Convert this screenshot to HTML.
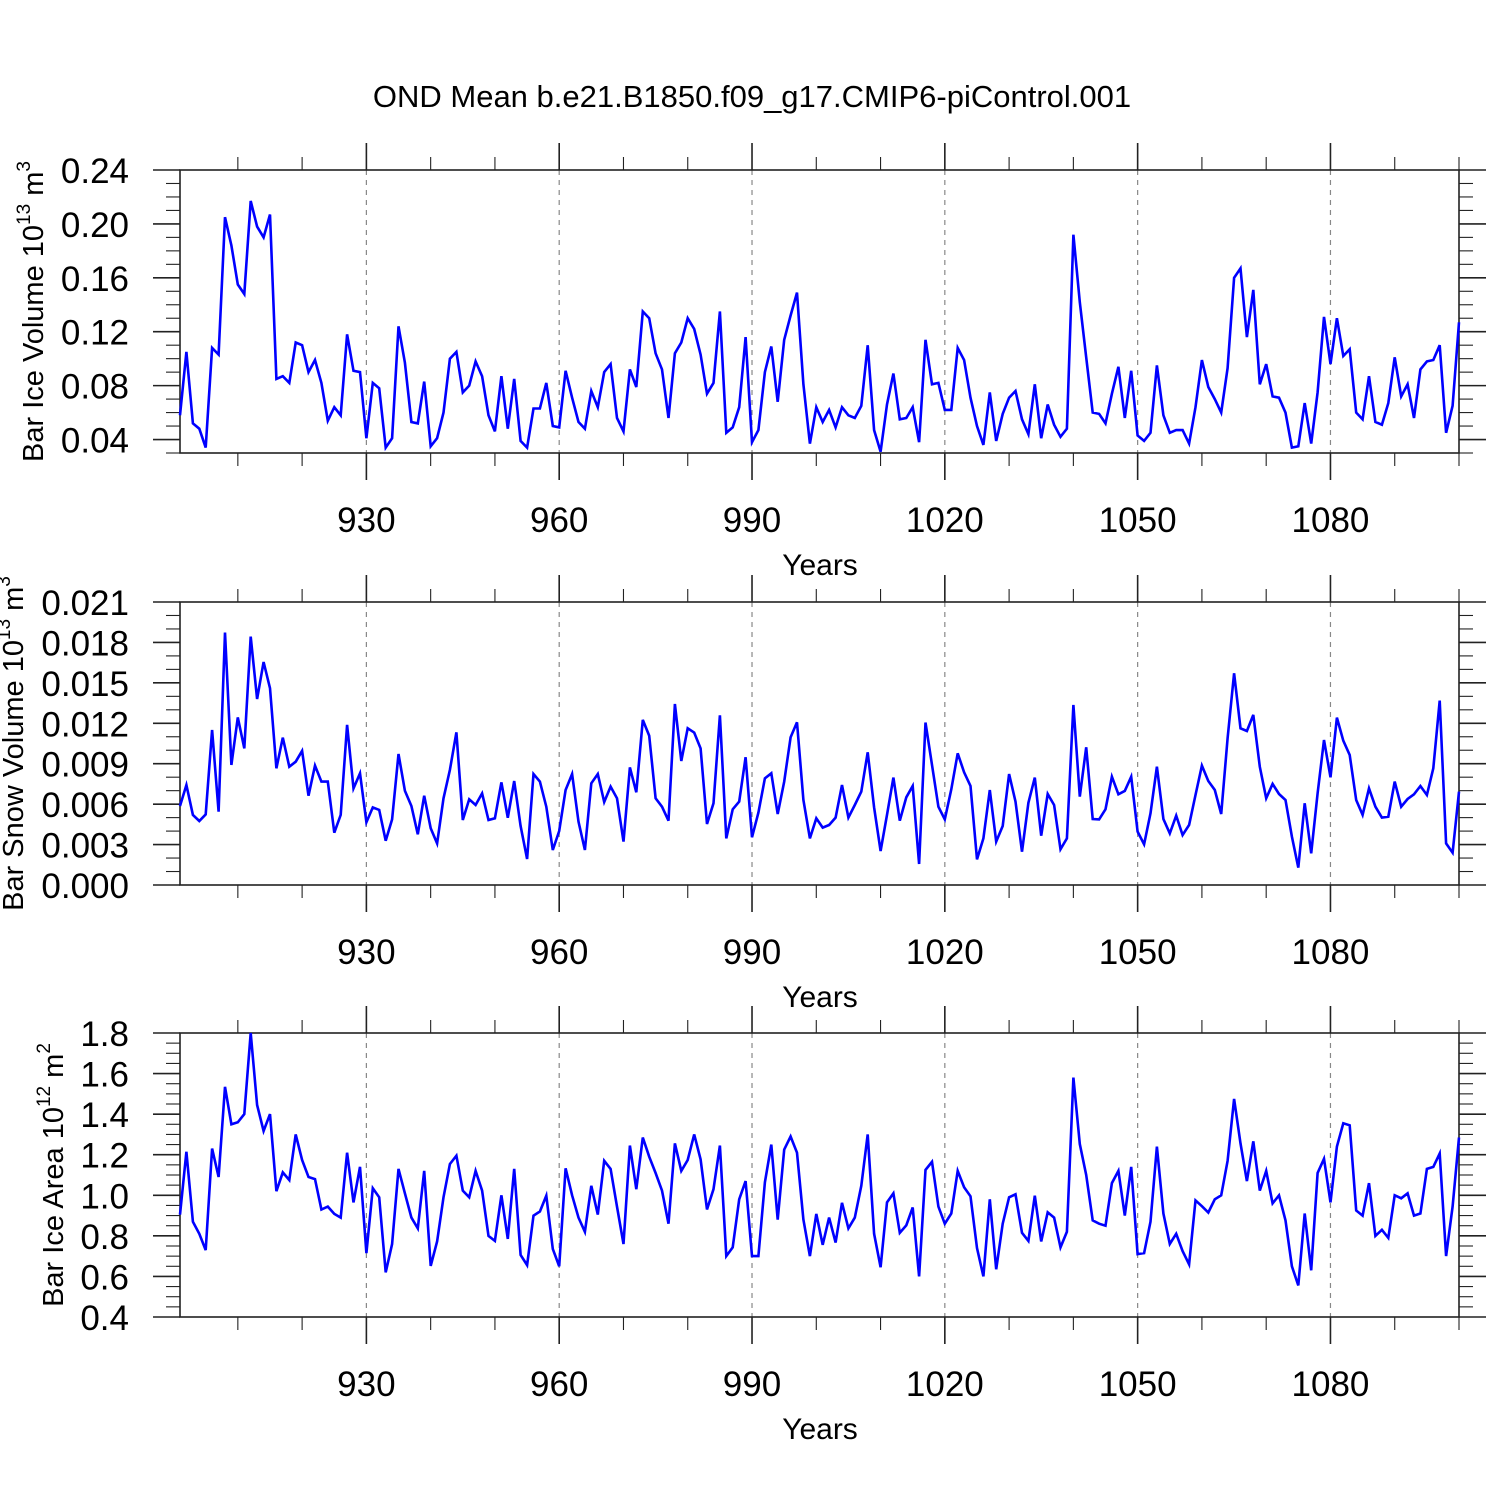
<!DOCTYPE html>
<html><head><meta charset="utf-8">
<style>
html,body{margin:0;padding:0;background:#fff;}
svg{display:block;font-family:"Liberation Sans",Arial,sans-serif;}
</style></head>
<body>
<svg id="chart" width="1500" height="1500" viewBox="0 0 1500 1500" xmlns="http://www.w3.org/2000/svg">
<rect width="1500" height="1500" fill="#fff"/>
<text x="752" y="107" font-size="31" text-anchor="middle">OND Mean b.e21.B1850.f09_g17.CMIP6-piControl.001</text>
</svg>
<script>
const startYear = 901;
const xTickYears = [930, 960, 990, 1020, 1050, 1080];
const iceVolume = [0.058,0.105,0.052,0.048,0.034,0.108,0.103,0.205,0.184,0.155,0.148,0.217,0.198,0.190,0.207,0.085,0.087,0.082,0.112,0.110,
0.090,0.099,0.082,0.054,0.064,0.058,0.118,0.091,0.090,0.041,0.082,0.078,0.034,0.041,0.124,0.097,0.053,0.052,0.083,0.035,
0.041,0.060,0.100,0.105,0.075,0.080,0.098,0.087,0.058,0.046,0.087,0.048,0.085,0.039,0.034,0.063,0.063,0.082,0.050,0.049,
0.091,0.071,0.053,0.048,0.076,0.064,0.090,0.096,0.056,0.046,0.092,0.079,0.135,0.130,0.104,0.092,0.056,0.104,0.112,0.130,
0.122,0.103,0.074,0.082,0.135,0.045,0.049,0.064,0.116,0.038,0.047,0.090,0.109,0.068,0.114,0.132,0.149,0.081,0.037,0.064,
0.053,0.062,0.049,0.064,0.058,0.056,0.065,0.110,0.047,0.031,0.066,0.089,0.055,0.056,0.064,0.038,0.114,0.081,0.082,0.062,
0.062,0.108,0.099,0.071,0.050,0.036,0.075,0.039,0.059,0.071,0.076,0.055,0.044,0.081,0.041,0.066,0.051,0.042,0.048,0.192,
0.142,0.101,0.060,0.059,0.052,0.074,0.094,0.056,0.091,0.043,0.039,0.045,0.095,0.058,0.045,0.047,0.047,0.037,0.064,0.099,
0.079,0.070,0.060,0.093,0.160,0.167,0.116,0.151,0.081,0.096,0.072,0.071,0.060,0.034,0.035,0.067,0.037,0.075,0.131,0.096,
0.130,0.102,0.107,0.060,0.055,0.087,0.053,0.051,0.067,0.101,0.072,0.081,0.056,0.092,0.098,0.099,0.110,0.045,0.065,0.127];
const snowVolume = [5.86,7.42,5.20,4.75,5.24,11.50,5.44,18.73,8.91,12.44,10.14,18.43,13.80,16.55,14.60,8.66,10.94,8.78,9.15,9.95,
6.63,8.86,7.67,7.67,3.88,5.20,11.88,7.17,8.29,4.65,5.76,5.57,3.29,4.87,9.72,7.00,5.86,3.76,6.63,4.21,
3.09,6.43,8.54,11.33,4.82,6.36,5.94,6.80,4.82,4.95,7.62,4.99,7.72,4.38,1.93,8.24,7.67,5.81,2.60,4.01,
7.05,8.24,4.70,2.60,7.55,8.24,6.16,7.30,6.43,3.22,8.73,6.88,12.25,11.08,6.43,5.81,4.77,13.43,9.20,11.63,
11.31,10.14,4.53,6.06,12.59,3.46,5.62,6.19,9.48,3.54,5.37,7.92,8.29,5.27,7.67,10.96,12.07,6.31,3.46,4.95,
4.26,4.45,5.00,7.42,5.00,5.94,6.93,9.85,5.76,2.52,5.20,7.97,4.77,6.51,7.35,1.56,12.05,8.91,5.81,4.87,
7.10,9.77,8.36,7.35,1.90,3.46,7.05,3.22,4.38,8.24,6.19,2.47,6.10,7.97,3.66,6.75,5.94,2.65,3.46,13.36,
6.56,10.22,4.90,4.87,5.62,8.04,6.73,6.98,8.04,3.96,3.02,5.32,8.78,4.90,3.83,5.15,3.71,4.45,6.68,8.86,
7.72,7.05,5.27,10.89,15.71,11.63,11.43,12.62,8.78,6.43,7.50,6.75,6.31,3.59,1.29,6.06,2.35,6.80,10.76,7.99,
12.42,10.71,9.65,6.31,5.20,7.17,5.81,5.00,5.07,7.67,5.81,6.38,6.73,7.35,6.68,8.66,13.68,3.09,2.40,6.93].map(v => v / 1000);
const iceArea = [0.905,1.215,0.87,0.81,0.73,1.23,1.09,1.535,1.35,1.36,1.40,1.80,1.445,1.317,1.40,1.02,1.113,1.075,1.30,1.174,
1.09,1.08,0.93,0.944,0.908,0.89,1.21,0.965,1.14,0.715,1.035,0.99,0.62,0.76,1.13,1.01,0.89,0.837,1.12,0.652,
0.772,0.99,1.154,1.195,1.023,0.99,1.12,1.023,0.80,0.775,1.0,0.785,1.13,0.706,0.656,0.90,0.92,0.998,0.735,0.65,
1.133,1.0,0.89,0.82,1.047,0.905,1.17,1.13,0.944,0.76,1.245,1.03,1.285,1.19,1.11,1.023,0.86,1.256,1.12,1.174,
1.30,1.177,0.93,1.03,1.245,0.70,0.743,0.98,1.07,0.70,0.70,1.064,1.25,0.88,1.225,1.29,1.21,0.88,0.70,0.908,
0.756,0.89,0.767,0.963,0.837,0.89,1.047,1.30,0.81,0.645,0.965,1.01,0.815,0.852,0.94,0.60,1.125,1.165,0.944,0.86,
0.91,1.12,1.04,0.995,0.74,0.60,0.98,0.635,0.86,0.99,1.005,0.815,0.775,0.998,0.772,0.916,0.89,0.743,0.82,1.58,
1.253,1.10,0.876,0.86,0.85,1.06,1.12,0.90,1.14,0.71,0.715,0.87,1.24,0.91,0.76,0.81,0.725,0.66,0.975,0.946,
0.915,0.98,1.0,1.17,1.475,1.256,1.07,1.266,1.023,1.12,0.96,1.0,0.876,0.65,0.556,0.91,0.63,1.11,1.18,0.965,
1.24,1.355,1.345,0.925,0.90,1.06,0.80,0.83,0.79,1.0,0.985,1.01,0.90,0.91,1.13,1.14,1.206,0.70,0.944,1.285];
const iceVolTicks = ["0.04","0.08","0.12","0.16","0.20","0.24"];
const snowTicks = ["0.000","0.003","0.006","0.009","0.012","0.015","0.018","0.021"];
const areaTicks = ["0.4","0.6","0.8","1.0","1.2","1.4","1.6","1.8"];

const NS = "http://www.w3.org/2000/svg";
const svg = document.getElementById("chart");
const X0 = 180, X1 = 1459, endYear = 1100;
function xScale(yr){ return X0 + (yr - startYear) * (X1 - X0) / (endYear - startYear); }
function mk(tag, attrs, parent){
  const e = document.createElementNS(NS, tag);
  for (const k in attrs) e.setAttribute(k, attrs[k]);
  (parent || svg).appendChild(e);
  return e;
}
function panel(key, top, bottom, ymin, ymax, ticks, minorStep, data, titleHtml, titleX){
  const g = mk("g", {});
  
  
  const y = v => bottom - (v - ymin) * (bottom - top) / (ymax - ymin);
  xTickYears.forEach(yr => {
    const gl = mk("line", {x1:xScale(yr), x2:xScale(yr), y1:top, y2:bottom, stroke:"#888", "stroke-width":1.2, "stroke-dasharray":"5,5"}, g);
    
    
  });
  for (let yr = 910; yr <= 1100; yr += 10){
    const major = xTickYears.includes(yr);
    const L = major ? 27 : 13;
    const xx = xScale(yr);
    mk("line", {x1:xx, x2:xx, y1:top-L, y2:top, stroke:"#222", "stroke-width":major?1.6:1.1}, g);
    mk("line", {x1:xx, x2:xx, y1:bottom, y2:bottom+L, stroke:"#222", "stroke-width":major?1.6:1.1}, g);
  }
  xTickYears.forEach(yr => {
    const t = mk("text", {x:xScale(yr), y:bottom+79, "font-size":35, "text-anchor":"middle"}, g);
    
    
    t.textContent = yr;
  });
  const xt = mk("text", {x:820, y:bottom+122, "font-size":30, "text-anchor":"middle"}, g);
  
  
  xt.textContent = "Years";
  const nMinor = Math.round((ymax - ymin) / minorStep);
  for (let i = 0; i <= nMinor; i++){
    const v = ymin + i * minorStep;
    const isMajor = ticks.some(t => Math.abs(parseFloat(t) - v) < minorStep * 0.01);
    const L = isMajor ? 27 : 14;
    const yy = y(v);
    mk("line", {x1:X0-L, x2:X0, y1:yy, y2:yy, stroke:"#222", "stroke-width":isMajor?1.6:1.1}, g);
    mk("line", {x1:X1, x2:X1+L, y1:yy, y2:yy, stroke:"#222", "stroke-width":isMajor?1.6:1.1}, g);
  }
  ticks.forEach(tk => {
    const t = mk("text", {x:129, y:y(parseFloat(tk))+13, "font-size":35, "text-anchor":"end"}, g);
    
    
    t.textContent = tk;
  });
  const fr = mk("rect", {x:X0, y:top, width:X1-X0, height:bottom-top, fill:"none", stroke:"#222", "stroke-width":1.6}, g);
  
  
  const pts = data.map((v, i) => xScale(startYear + i).toFixed(1) + "," + y(v).toFixed(1)).join(" ");
  const pl = mk("polyline", {points:pts, fill:"none", stroke:"#0000ff", "stroke-width":2.6, "stroke-linejoin":"miter"}, g);
  
  
  const cy = (top + bottom) / 2;
  const yt = mk("text", {x:0, y:0, "font-size":29, "text-anchor":"middle", transform:"translate(" + titleX + "," + cy + ") rotate(-90)"}, g);
  
  
  yt.innerHTML = titleHtml;
}
panel("ice-volume", 170, 453, 0.03, 0.24, iceVolTicks, 0.01, iceVolume,
  'Bar Ice Volume 10<tspan font-size="19" dy="-13">13</tspan><tspan dy="13"> m</tspan><tspan font-size="19" dy="-13">3</tspan>', 43);
panel("snow-volume", 602, 885, 0.0, 0.021, snowTicks, 0.001, snowVolume,
  'Bar Snow Volume 10<tspan font-size="19" dy="-13">13</tspan><tspan dy="13"> m</tspan><tspan font-size="19" dy="-13">3</tspan>', 23);
panel("ice-area", 1033, 1317, 0.4, 1.8, areaTicks, 0.05, iceArea,
  'Bar Ice Area 10<tspan font-size="19" dy="-13">12</tspan><tspan dy="13"> m</tspan><tspan font-size="19" dy="-13">2</tspan>', 63);
</script>
</body></html>
